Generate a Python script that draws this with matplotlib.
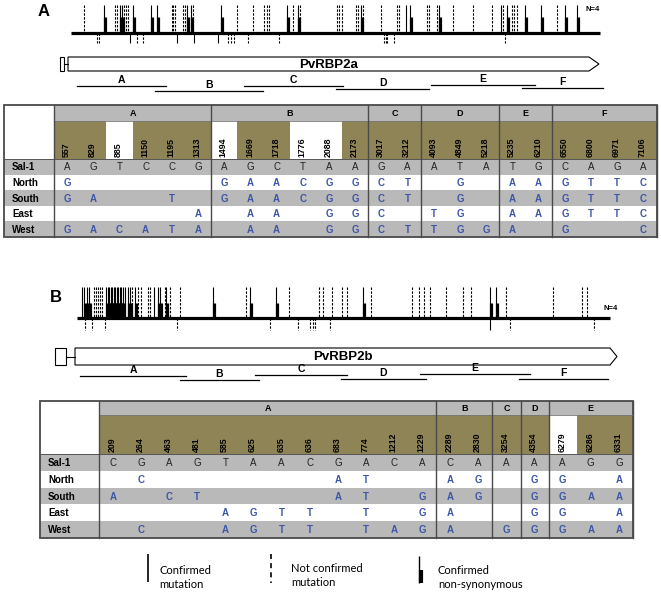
import matplotlib.pyplot as plt
from matplotlib.patches import Rectangle, Polygon

plt.rcParams['font.family'] = ['Liberation Sans', 'DejaVu Sans']

# ---------------- data: mutation tracks (x = position along drawn gene) ----------------
# panel A (PvRBP2a)
a_nc_up = [84, 115, 117, 124, 126, 128, 171.7, 173.3, 175, 182.7, 185, 193, 237, 253,
           264, 266.7, 269.3, 292.7, 300, 336.7, 339.3, 341.7, 356, 358.3, 362.7, 380.7,
           396.7, 399, 426.7, 429, 436.7, 453.3, 472.7, 491.7, 502.7, 511.7, 514, 517.3, 556.7]
a_conf_up = [406, 501]
a_ns_up = [104.3, 120, 122, 132.7, 150.7, 156.7, 187.3, 190.7, 221, 286.7, 297.7, 360.7,
           410, 439.3, 506.7, 525, 541, 565, 576.7]
a_nc_down = [97.3, 99, 137.3, 143.3, 227.7, 230.7, 234, 248.3, 279.3, 384, 385.7, 387.3, 394.3, 505]
a_conf_down = [130, 177.3, 194, 217.7]

# panel B (PvRBP2b)
b_nc_up = [94, 96, 98, 100, 101.7, 131.7, 138.3, 140.7, 148.3, 150, 165, 170, 180, 246, 289.3,
           319.3, 323.3, 331.7, 341.7, 346.7, 370.7, 411.7, 419.3, 424, 430, 446, 463.3, 471,
           506, 553.3, 581.7, 586.7]
b_conf_up = [82, 125, 154]
b_ns_up = [84, 86.5, 89, 106, 107.5, 109, 110.5, 112, 113.5, 115, 116.5, 118, 119.5, 121, 122.5,
           128.3, 130, 135, 158.3, 160, 166, 212.7, 250, 275.7, 363.3, 490, 496]
b_nc_down = [85, 91.7, 105, 176.7, 270, 298.3, 310, 312.7, 315, 330, 510, 594]
b_conf_down = [490]

# amplified fragments under each gene: (label, start, end, line y)
a_frags = [('A', 77, 166, 86), ('B', 155, 263, 91), ('C', 244, 343, 86),
           ('D', 336, 429, 89), ('E', 431, 535, 84.5), ('F', 522, 603, 88)]
b_frags = [('A', 80, 186, 376), ('B', 180, 259, 380), ('C', 255, 347, 375),
           ('D', 341, 426, 379), ('E', 420, 530, 374), ('F', 519, 608, 379)]

# ---------------- data: SNP tables ----------------
rows = ['Sal-1', 'North', 'South', 'East', 'West']

a_regions = ['A', 'B', 'C', 'D', 'E', 'F']
a_pos = [['557', '829', '885', '1150', '1195', '1313'],
         ['1494', '1669', '1718', '1776', '2088', '2173'],
         ['3017', '3212'],
         ['4093', '4849', '5218'],
         ['5235', '6210'],
         ['6550', '6800', '6971', '7106']]
a_white = ['885', '1494', '1776', '2088']
a_calls = {
    'Sal-1': 'AGTCCG AGCTAA GA ATA TG CAGA',
    'North': 'G..... GAACGG CT .G. AA GTTC',
    'South': 'GA..T. GAACGG CT .G. AA GTTC',
    'East':  '.....A .AA.GG C. TG. AA GTTC',
    'West':  'GACATA .AA.GG CT TGG A. G..C',
}

b_regions = ['A', 'B', 'C', 'D', 'E']
b_pos = [['209', '264', '463', '481', '585', '625', '635', '636', '683', '774', '1212', '1229'],
         ['2289', '2830'],
         ['3254'],
         ['4354'],
         ['6279', '6286', '6331']]
b_white = ['6279']
b_calls = {
    'Sal-1': 'CGAGTAACGACA CA A A AGG',
    'North': '.C......AT.. AG . G G.A',
    'South': 'A.CT....AT.G AG . G GAA',
    'East':  '....AGTT.T.G A. . G G.A',
    'West':  '.C..AGTT.TAG A. G G GAA',
}

GRAY = '#b9b9b9'
OLIVE = '#8e8456'
BLUE = '#3d55a8'
EDGE = '#4a4a4a'

fig = plt.figure(figsize=(6.61, 5.95), dpi=100)
ax = fig.add_axes([0, 0, 1, 1])
ax.set_xlim(0, 661)
ax.set_ylim(595, 0)
ax.axis('off')

DASH = (0, (2.2, 1.3))


def draw_track(base, x0, x1, top, mid, low, nc_up, conf_up, ns_up, nc_down, conf_down):
    ax.vlines(nc_up, top, base, colors='black', lw=0.8, linestyles=DASH)
    ax.vlines(conf_up, top, base, colors='black', lw=0.8)
    ax.vlines(ns_up, top, base, colors='black', lw=0.8)
    ax.vlines([x + 1.0 for x in ns_up], mid, base, colors='black', lw=2.3)
    ax.vlines(nc_down, base, low, colors='black', lw=0.8, linestyles=DASH)
    ax.vlines(conf_down, base, low, colors='black', lw=0.8)
    ax.plot([x0, x1], [base, base], color='black', lw=2.3, solid_capstyle='butt')


def draw_gene(name, bx0, bx1, x0, x1, tip, y0, y1):
    ym = (y0 + y1) / 2
    ax.add_patch(Rectangle((bx0, y0), bx1 - bx0, y1 - y0, fc='white', ec='black', lw=0.8))
    ax.plot([bx1, x0], [ym, ym], color='black', lw=0.8)
    ax.add_patch(Polygon([(x0, y0), (x1, y0), (tip, ym), (x1, y1), (x0, y1)],
                         closed=True, fc='white', ec='black', lw=0.8))
    ax.text((x0 + x1) / 2, ym + 0.5, name, ha='center', va='center', fontsize=9.5,
            fontweight='bold', family=['Liberation Sans Narrow', 'Liberation Sans'])


def draw_frags(frags):
    for lab, s, e, y in frags:
        ax.plot([s, e], [y, y], color='black', lw=0.9)
        ax.text((s + e) / 2, y - 0.8, lab, ha='center', va='bottom', fontsize=7.5,
                fontweight='bold', family=['Liberation Sans Narrow', 'Liberation Sans'])


def draw_table(left, top, c0w, cw, h1, h2, rh, regions, pos, white, calls):
    ncols = sum(len(p) for p in pos)
    right = left + c0w + ncols * cw
    hb = top + h1 + h2
    bottom = hb + rh * len(rows)
    # first column header
    ax.add_patch(Rectangle((left, top), c0w, h1 + h2, fc='white', ec='none'))
    # header rows
    ax.add_patch(Rectangle((left + c0w, top), ncols * cw, h1, fc=GRAY, ec='none'))
    x = left + c0w
    bounds = [left + c0w]
    flat = []
    for reg, plist in zip(regions, pos):
        w = len(plist) * cw
        ax.text(x + w / 2, top + h1 / 2 + 0.5, reg, ha='center', va='center',
                fontsize=6.5, fontweight='bold')
        for p in plist:
            ax.add_patch(Rectangle((x, top + h1), cw, h2,
                                   fc='white' if p in white else OLIVE, ec='none'))
            ax.text(x + cw / 2 - 1, hb - 2, p, rotation=90, ha='center', va='bottom',
                    fontsize=6.3, fontweight='bold')
            flat.append(x)
            x += cw
        bounds.append(x)
    # data rows
    for i, r in enumerate(rows):
        y = hb + i * rh
        ax.add_patch(Rectangle((left, y), right - left, rh,
                               fc=GRAY if i % 2 == 0 else 'white', ec='none'))
        ax.text(left + 8, y + rh / 2 + 0.5, r, ha='left', va='center', fontsize=7,
                fontweight='bold')
        seq = calls[r].replace(' ', '')
        for xc, ch in zip(flat, seq):
            if ch == '.':
                continue
            if i == 0:
                ax.text(xc + cw / 2, y + rh / 2 + 0.5, ch, ha='center', va='center',
                        fontsize=7, color='#222222')
            else:
                ax.text(xc + cw / 2, y + rh / 2 + 0.5, ch, ha='center', va='center',
                        fontsize=7, color=BLUE, fontweight='bold')
    # lines
    ax.plot([left + c0w, right], [top + h1, top + h1], color='#777777', lw=0.6)
    ax.plot([left, right], [hb, hb], color='#555555', lw=0.7)
    for bx in bounds:
        ax.plot([bx, bx], [top, bottom], color=EDGE, lw=1.0)
    ax.add_patch(Rectangle((left, top), right - left, bottom - top, fc='none',
                           ec=EDGE, lw=1.3))


# ---------------- panel A ----------------
ax.text(38, 11, 'A', fontsize=12, fontweight='bold', ha='left', va='center')
draw_track(33, 71, 600, 5, 17, 43, a_nc_up, a_conf_up, a_ns_up, a_nc_down, a_conf_down)
ax.text(585, 9.5, 'N=4', fontsize=5.5, fontweight='bold', ha='left', va='center')
draw_gene('PvRBP2a', 59.5, 63.5, 68, 589, 599, 57, 71)
draw_frags(a_frags)
draw_table(4, 105, 50, 26.2, 16, 38, 15.6, a_regions, a_pos, a_white, a_calls)

# ---------------- panel B ----------------
ax.text(50, 297, 'B', fontsize=12, fontweight='bold', ha='left', va='center')
draw_track(318, 77, 610, 287, 303, 330, b_nc_up, b_conf_up, b_ns_up, b_nc_down, b_conf_down)
ax.text(603, 309, 'N=4', fontsize=5.5, fontweight='bold', ha='left', va='center')
draw_gene('PvRBP2b', 55, 66, 75, 610, 617, 348, 365)
draw_frags(b_frags)
draw_table(40, 401, 59, 28.1, 14, 39, 16.8, b_regions, b_pos, b_white, b_calls)

# ---------------- legend ----------------
leg_font = ['Lato', 'DejaVu Sans']
ax.vlines(148, 554, 582, colors='black', lw=1.2)
ax.text(159, 570, 'Confirmed', fontsize=8, ha='left', va='center', family=leg_font)
ax.text(159, 585, 'mutation', fontsize=8, ha='left', va='center', family=leg_font)
ax.vlines(271, 554, 583, colors='black', lw=1.2, linestyles=(0, (3, 2.5)))
ax.text(291, 568, 'Not confirmed', fontsize=8, ha='left', va='center', family=leg_font)
ax.text(291, 583, 'mutation', fontsize=8, ha='left', va='center', family=leg_font)
ax.vlines(419, 556, 583, colors='black', lw=1.0)
ax.vlines(420.5, 570, 583, colors='black', lw=3.0)
ax.text(438, 570, 'Confirmed', fontsize=8, ha='left', va='center', family=leg_font)
ax.text(438, 585, 'non-synonymous', fontsize=8, ha='left', va='center', family=leg_font)

fig.savefig('out.png', dpi=100)
